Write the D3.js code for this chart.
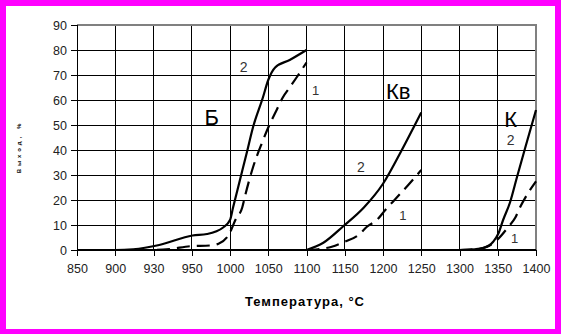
<!DOCTYPE html>
<html>
<head>
<meta charset="utf-8">
<script src="https://cdn.jsdelivr.net/npm/d3@7"></script>
<style>
  html, body { margin: 0; padding: 0; background: #fff; }
  svg text { font-family: "Liberation Sans", Arial, sans-serif; }
</style>
</head>
<body>
<svg id="chart" width="561" height="334"></svg>
<script>
// Category axis (evenly spaced temperatures) and value axis ticks
const categories = [850, 900, 930, 950, 1000, 1050, 1100, 1150, 1200, 1250, 1300, 1350, 1400];
const yTicks = [0, 10, 20, 30, 40, 50, 60, 70, 80, 90];

// Б — curve 2 (solid) and curve 1 (dashed)
const tB2 = [850, 900, 914, 933, 951, 970, 991, 1000, 1004, 1013, 1022, 1030, 1043, 1050, 1059, 1078, 1100];
const vB2 = [0, 0, 0.3, 2, 5.8, 6.4, 9, 12, 17, 28, 39, 49, 61, 68, 73, 76, 80];
const tB1 = [850, 900, 930, 939, 949, 974, 985, 1000, 1007, 1016, 1020, 1030, 1042, 1050, 1061, 1069, 1078, 1087, 1100];
const vB1 = [0, 0, 0, 0.4, 1.5, 1.8, 2.5, 7, 12, 17, 22, 33, 43, 49, 56, 61, 65, 69, 75];

// Кв — curve 2 (solid) and curve 1 (dashed)
const tKv2 = [1100, 1122, 1148, 1175, 1200, 1222, 1250];
const vKv2 = [0, 2.9, 9.5, 17, 26.5, 38.5, 55];
const tKv1 = [1100, 1115, 1133, 1150, 1168, 1179, 1192, 1203, 1218, 1233, 1250];
const vKv1 = [0, 0.3, 1.3, 3.3, 6, 9.3, 12, 16, 21, 26, 32];

// К — curve 2 (solid) and curve 1 (dashed)
const tK2 = [1250, 1300, 1320, 1331, 1344, 1351, 1357, 1366, 1375, 1386, 1400];
const vK2 = [0, 0, 0.3, 0.8, 3.3, 6.7, 12, 19, 29, 41, 56];
const tK1 = [1300, 1320, 1336, 1349, 1364, 1373, 1379, 1388, 1400];
const vK1 = [0, 0.3, 1.3, 4, 9.3, 13, 17, 22, 27.5];

// Text annotations: label, temperature, value (baseline), font size
const labelText = ["Б", "2", "1", "Кв", "2", "1", "К", "2", "1"];
const labelT    = [976, 1018, 1112, 1220, 1171, 1226, 1367, 1367, 1372];
const labelV    = [50, 71.2, 62, 60.4, 31.2, 12, 49.2, 42, 2.8];
const labelSize = [22, 14, 13, 22, 14, 13, 22, 14, 13];

(function draw() {
  const svg = d3.select("#chart");
  const W = 561, H = 334;

  // magenta frame
  svg.append("rect").attr("x", 0).attr("y", 0).attr("width", W).attr("height", H).attr("fill", "#ff00ff");
  svg.append("rect").attr("x", 6).attr("y", 6).attr("width", 549).attr("height", 323).attr("fill", "#fff");

  const pl = 77, pr = 536, pt = 25, pb = 250;

  const xPos = d3.scalePoint().domain(categories).range([pl, pr]);
  // piecewise linear map from temperature to category position
  const x = d3.scaleLinear().domain(categories).range(categories.map(c => xPos(c)));
  const y = d3.scaleLinear().domain([0, 90]).range([pb, pt]);

  // grid
  const g = svg.append("g");
  g.selectAll("line.h").data(yTicks.filter(v => v > 0 && v < 90)).join("line")
    .attr("x1", pl).attr("x2", pr).attr("y1", d => y(d)).attr("y2", d => y(d))
    .attr("stroke", "#000").attr("stroke-width", 1).attr("shape-rendering", "crispEdges");
  g.selectAll("line.v").data(categories.slice(1, -1)).join("line")
    .attr("x1", d => xPos(d)).attr("x2", d => xPos(d)).attr("y1", pt).attr("y2", pb)
    .attr("stroke", "#000").attr("stroke-width", 1).attr("shape-rendering", "crispEdges");

  // plot area border (top and right)
  g.append("path").attr("d", `M${pl},${pt}H${pr}V${pb}`)
    .attr("fill", "none").attr("stroke", "#808080").attr("stroke-width", 2).attr("shape-rendering", "crispEdges");

  // axes
  const yAxis = d3.axisLeft(y).tickValues(yTicks).tickSize(6).tickPadding(4);
  const xAxis = d3.axisBottom(xPos).tickSize(6).tickPadding(8);

  const ya = svg.append("g").attr("transform", `translate(${pl},0)`).call(yAxis);
  const xa = svg.append("g").attr("transform", `translate(0,${pb})`).call(xAxis);
  [ya, xa].forEach(a => {
    a.select(".domain").remove();
    a.selectAll(".tick line").attr("stroke", "#000").attr("shape-rendering", "crispEdges");
    a.selectAll(".tick text").attr("fill", "#222").attr("font-size", 12.5)
      .attr("font-family", "Liberation Sans, Arial, sans-serif");
  });
  svg.append("line").attr("x1", pl).attr("x2", pl).attr("y1", pt).attr("y2", pb + 6)
    .attr("stroke", "#000").attr("stroke-width", 1).attr("shape-rendering", "crispEdges");
  svg.append("line").attr("x1", pl).attr("x2", pr).attr("y1", pb).attr("y2", pb)
    .attr("stroke", "#000").attr("stroke-width", 2);

  // series
  const line = d3.line().x(d => x(d[0])).y(d => y(d[1])).curve(d3.curveMonotoneX);
  const series = [
    { t: tB2, v: vB2, dash: null },
    { t: tB1, v: vB1, dash: "13,7" },
    { t: tKv2, v: vKv2, dash: null },
    { t: tKv1, v: vKv1, dash: "13,7" },
    { t: tK2, v: vK2, dash: null },
    { t: tK1, v: vK1, dash: "13,7" }
  ];
  svg.append("g").selectAll("path").data(series).join("path")
    .attr("d", s => line(s.t.map((t, i) => [t, s.v[i]])))
    .attr("fill", "none").attr("stroke", "#000").attr("stroke-width", 2.2)
    .attr("stroke-dasharray", s => s.dash);

  // annotations
  svg.append("g").selectAll("text").data(labelText).join("text")
    .attr("x", (d, i) => x(labelT[i])).attr("y", (d, i) => y(labelV[i]))
    .attr("text-anchor", "middle").attr("font-size", (d, i) => labelSize[i])
    .attr("fill", (d, i) => labelSize[i] > 16 ? "#000" : "#333")
    .text(d => d);

  // axis titles
  svg.append("text").attr("x", 305).attr("y", 306).attr("text-anchor", "middle")
    .attr("font-size", 13).attr("font-weight", "bold").attr("letter-spacing", 1)
    .text("Температура, °С");
  svg.append("text").attr("transform", "translate(21,147) rotate(-90)")
    .attr("text-anchor", "middle").attr("font-size", 6).attr("font-weight", "bold")
    .attr("letter-spacing", 3).text("Выход, %");
})();
</script>
</body>
</html>
